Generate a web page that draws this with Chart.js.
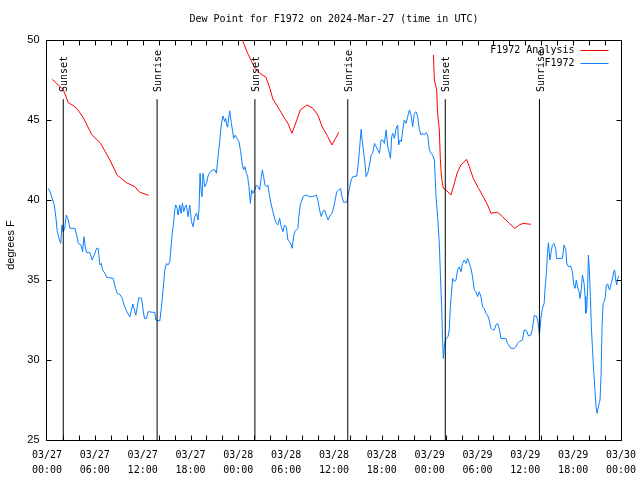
<!DOCTYPE html>
<html>
<head>
<meta charset="utf-8">
<script src="https://cdn.jsdelivr.net/npm/chart.js@4.4.1/dist/chart.umd.min.js"></script>
<style>
  body { margin: 0; background: #fff; }
</style>
</head>
<body>
<canvas id="grafico" width="640" height="480"></canvas>
<script>
// Horas desde 03/27 00:00 UTC
const obsHours = [
  0.16, 0.38, 0.71, 0.91, 1.13, 1.29, 1.50, 1.72, 1.88, 2.04, 2.22, 2.42, 2.67, 2.88, 3.51, 3.72, 3.92, 4.26, 4.47, 4.63,
  4.80, 4.97, 5.38, 5.67, 6.01, 6.22, 6.42, 6.64, 6.80, 6.97, 7.26, 7.48, 8.30, 8.60, 8.80, 9.14, 9.39, 9.77, 10.14, 10.39,
  10.77, 11.14, 11.52, 11.86, 12.06, 12.23, 12.48, 12.68, 13.31, 13.52, 13.65, 14.15, 14.36, 14.56, 14.78, 14.99, 15.19, 15.40, 15.53, 15.69,
  15.82, 16.03, 16.15, 16.32, 16.44, 16.65, 16.82, 16.99, 17.16, 17.32, 17.49, 17.69, 17.91, 18.12, 18.32, 18.53, 18.75, 18.95, 19.07, 19.20,
  19.32, 19.45, 19.57, 19.78, 20.00, 20.20, 20.41, 20.75, 21.04, 21.25, 21.45, 21.66, 21.88, 22.08, 22.29, 22.41, 22.58, 22.70, 22.92, 23.13,
  23.42, 23.63, 23.83, 24.08, 24.29, 24.51, 24.67, 24.83, 25.01, 25.17, 25.33, 25.51, 25.67, 25.83, 26.05, 26.26, 26.46, 26.67, 26.89, 27.01,
  27.17, 27.34, 27.51, 27.71, 27.92, 28.14, 28.34, 28.55, 28.76, 28.96, 29.18, 29.39, 29.59, 29.80, 30.02, 30.22, 30.43, 30.64, 30.77, 30.93,
  31.09, 31.27, 31.47, 31.59, 31.77, 31.97, 32.18, 32.52, 32.93, 33.35, 33.77, 33.97, 34.19, 34.40, 34.60, 34.81, 35.02, 35.27, 35.52, 35.78,
  36.06, 36.35, 36.60, 36.82, 37.03, 37.19, 37.60, 37.73, 37.94, 38.15, 38.36, 38.86, 39.07, 39.28, 39.41, 39.53, 39.73, 39.91, 40.03, 40.23,
  40.45, 40.66, 40.86, 41.07, 41.28, 41.49, 41.70, 41.91, 42.11, 42.32, 42.54, 42.74, 42.95, 43.08, 43.24, 43.36, 43.58, 43.79, 43.99, 44.11,
  44.29, 44.45, 44.62, 44.83, 45.04, 45.24, 45.46, 45.67, 45.87, 46.08, 46.29, 46.49, 46.71, 46.92, 47.12, 47.33, 47.55, 47.75, 47.96, 48.17,
  48.37, 48.59, 48.80, 49.00, 49.21, 49.34, 49.50, 49.62, 49.71, 49.88, 50.05, 50.30, 50.46, 50.59, 50.80, 50.88, 51.09, 51.30, 51.50, 51.72,
  51.93, 52.13, 52.34, 52.56, 52.76, 52.97, 53.18, 53.38, 53.59, 53.81, 54.01, 54.22, 54.43, 54.63, 54.85, 55.06, 55.26, 55.47, 55.69, 55.89,
  56.10, 56.31, 56.51, 56.72, 56.94, 57.56, 57.76, 58.19, 58.60, 58.81, 59.01, 59.23, 59.64, 59.86, 60.14, 60.39, 60.69, 60.90, 61.11, 61.40,
  61.61, 61.77, 61.95, 62.15, 62.36, 62.48, 62.65, 62.78, 62.90, 63.08, 63.24, 63.40, 63.61, 63.83, 63.90, 64.65, 64.86, 65.08, 65.20, 65.40,
  65.70, 65.91, 66.08, 66.24, 66.40, 66.58, 66.74, 66.87, 67.03, 67.16, 67.37, 67.49, 67.58, 67.71, 67.83, 67.91, 68.03, 68.16, 68.28, 68.41,
  68.58, 68.75, 68.87, 69.00, 69.12, 69.25, 69.37, 69.50, 69.62, 69.75, 69.91, 70.04, 70.16, 70.34, 70.46, 70.59, 70.75, 70.91, 71.09, 71.21,
  71.34, 71.46, 71.59, 71.71
];
const obsDew = [
  40.73, 40.52, 40.0, 39.69, 38.85, 38.02, 37.6, 37.29, 38.44, 38.0, 38.23, 39.06, 38.75, 38.23, 38.23, 37.81, 37.29, 37.19, 36.77, 37.71,
  37.08, 36.71, 36.71, 36.25, 36.67, 36.98, 36.98, 35.94, 36.04, 35.63, 35.42, 35.17, 35.1, 34.48, 34.17, 34.1, 33.9, 33.3, 32.9, 32.7,
  33.5, 32.8, 33.9, 33.85, 33.1, 32.6, 32.6, 33.02, 32.98, 32.98, 32.5, 32.44, 33.33, 34.38, 35.63, 36.04, 35.94, 36.15, 36.88, 37.81,
  38.33, 39.38, 39.69, 39.48, 39.06, 39.69, 39.17, 39.79, 39.27, 39.58, 39.69, 38.96, 39.69, 38.65, 38.33, 38.96, 39.17, 38.75, 39.48, 41.67,
  40.63, 40.21, 41.67, 40.83, 41.04, 41.5, 41.71, 41.88, 41.88, 41.67, 42.71, 43.65, 44.79, 45.25, 44.9, 45.1, 44.58, 44.79, 45.58, 44.79,
  43.85, 44.06, 43.85, 43.65, 43.02, 42.19, 41.88, 42.08, 41.67, 41.46, 40.83, 39.79, 40.63, 40.42, 40.63, 40.94, 40.83, 40.63, 41.46, 41.88,
  41.46, 40.94, 40.83, 40.94, 40.21, 39.69, 39.27, 38.85, 38.54, 38.44, 38.85, 38.33, 38.02, 38.44, 38.33, 37.5, 37.4, 37.19, 36.98, 37.71,
  38.02, 38.13, 38.23, 38.96, 39.69, 40.0, 40.25, 40.31, 40.21, 40.21, 40.31, 40.0, 39.38, 38.96, 39.27, 39.38, 39.06, 38.75, 39.06, 39.17,
  39.79, 40.52, 40.63, 40.73, 40.15, 39.86, 39.86, 40.21, 40.73, 41.25, 41.46, 41.5, 42.4, 43.65, 44.42, 43.75, 42.92, 42.19, 41.46, 41.67,
  42.19, 42.81, 42.92, 43.54, 43.33, 43.13, 42.92, 43.75, 43.75, 43.54, 44.38, 43.33, 42.92, 42.6, 43.96, 44.17, 43.85, 44.48, 44.69, 43.44,
  43.75, 43.65, 44.38, 45.0, 44.79, 45.21, 45.63, 45.31, 44.58, 45.42, 45.52, 45.21, 44.38, 44.06, 44.17, 44.06, 44.21, 44.06, 43.13, 42.92,
  42.81, 42.5, 40.21, 38.96, 37.29, 35.42, 33.33, 31.25, 30.1, 31.04, 31.35, 31.46, 31.88, 33.33, 34.58, 35.1, 34.9, 35.0, 35.63, 35.83,
  35.52, 36.04, 36.25, 36.04, 36.35, 36.04, 35.73, 35.21, 34.38, 34.27, 33.96, 34.27, 33.96, 33.33, 33.23, 32.92, 32.81, 32.5, 31.98, 31.88,
  31.88, 32.19, 32.29, 31.98, 31.35, 31.35, 31.04, 30.73, 30.73, 30.83, 31.04, 31.15, 31.25, 31.88, 31.83, 31.5, 31.56, 31.98, 32.77, 32.75,
  32.33, 31.56, 32.6, 33.23, 33.54, 34.48, 35.52, 36.67, 37.33, 36.25, 36.77, 37.19, 37.29, 36.88, 36.35, 36.35, 37.19, 36.88, 36.04, 35.83,
  35.88, 35.52, 34.69, 34.48, 35.0, 34.48, 34.27, 33.85, 34.48, 35.31, 34.79, 33.96, 32.92, 33.23, 34.79, 36.56, 35.63, 33.96, 32.08, 30.83,
  29.27, 28.02, 27.08, 26.67, 26.98, 27.29, 27.5, 29.06, 31.98, 33.54, 33.65, 33.96, 34.69, 34.75, 34.48, 34.38, 34.79, 35.0, 35.52, 35.63,
  35.0, 34.69, 35.1, 35.25
];

// Análise (três trechos, separados por null)
const anaHours = [
  0.66, 2.04, 2.67, 3.29, 3.79, 4.55, 5.60, 6.72, 7.89, 8.80, 9.98, 11.02, 11.65, 12.77,
  18,
  24.5, 25.17, 25.67, 26.08, 26.70, 27.46, 27.96, 28.33, 29.18, 29.80, 30.22, 30.72, 31.27, 31.77, 32.60, 33.35, 33.97, 34.52, 35.22, 35.73, 36.19, 36.60,
  42,
  48.47, 48.59, 48.88, 49.00, 49.21, 49.34, 49.50, 49.71, 50.05, 50.67, 51.09, 51.50, 51.93, 52.63, 52.97, 53.47, 54.13, 54.72, 55.26, 55.69, 56.51, 57.14, 57.98, 58.69, 59.23, 59.73, 60.69
];
const anaDew = [
  47.54, 46.9, 46.08, 45.9, 45.69, 45.15, 44.1, 43.54, 42.5, 41.56, 41.08, 40.83, 40.48, 40.29,
  null,
  50.0, 49.17, 48.65, 48.23, 47.92, 47.67, 46.98, 46.31, 45.63, 45.1, 44.79, 44.17, 44.9, 45.63, 45.94, 45.73, 45.31, 44.58, 43.96, 43.44, 43.85, 44.23,
  null,
  49.06, 47.5, 46.88, 45.42, 44.38, 42.5, 41.35, 40.73, 40.63, 40.31, 41.04, 41.77, 42.19, 42.54, 42.08, 41.35, 40.73, 40.21, 39.69, 39.17, 39.23, 38.96, 38.54, 38.23, 38.44, 38.54, 38.48
];

const eventHours = [2.04, 13.81, 26.08, 37.73, 49.96, 61.77];
const eventNames = ['Sunset', 'Sunrise', 'Sunset', 'Sunrise', 'Sunset', 'Sunrise'];
const eventTop = 46.3;

const yTicks = [25, 30, 35, 40, 45, 50];
const xLabelHours = [0, 6, 12, 18, 24, 30, 36, 42, 48, 54, 60, 66, 72];
const xLabelDates = ['03/27', '03/27', '03/27', '03/27', '03/28', '03/28', '03/28', '03/28', '03/29', '03/29', '03/29', '03/29', '03/30'];
const xLabelTimes = ['00:00', '06:00', '12:00', '18:00', '00:00', '06:00', '12:00', '18:00', '00:00', '06:00', '12:00', '18:00', '00:00'];

const titulo = 'Dew Point for F1972 on 2024-Mar-27 (time in UTC)';
const MONO = '10px "DejaVu Sans Mono"';
const SANS = '11px "Liberation Sans"';

const pares = (xs, ys) => xs.map((h, i) => ({ x: h, y: ys[i] }));

// linhas verticais de nascer/pôr do sol
const eventData = [];
eventHours.forEach(h => {
  eventData.push({ x: h, y: 25 }, { x: h, y: eventTop }, { x: h, y: null });
});

const moldura = {
  id: 'moldura',
  beforeDraw(chart) {
    const ctx = chart.ctx;
    ctx.save();
    ctx.fillStyle = '#fff';
    ctx.fillRect(0, 0, chart.width, chart.height);
    ctx.restore();
  },
  afterDraw(chart) {
    const { ctx, chartArea: a, scales: { x, y } } = chart;
    const L = Math.round(a.left) - 0.5, R = Math.round(a.right) + 0.5;
    const T = Math.round(a.top) + 0.5, B = Math.round(a.bottom) + 0.5;
    ctx.save();
    ctx.strokeStyle = '#000';
    ctx.lineWidth = 1;
    ctx.strokeRect(L, T, R - L, B - T);

    // marcas internas
    ctx.beginPath();
    for (let h = 2; h < 72; h += 2) {
      const px = Math.round(x.getPixelForValue(h)) + 0.5;
      ctx.moveTo(px, B); ctx.lineTo(px, B - 5);
      ctx.moveTo(px, T); ctx.lineTo(px, T + 5);
    }
    yTicks.forEach(v => {
      const py = Math.round(y.getPixelForValue(v)) + 0.5;
      ctx.moveTo(L, py); ctx.lineTo(L + 5, py);
      ctx.moveTo(R, py); ctx.lineTo(R - 5, py);
    });
    ctx.stroke();

    ctx.fillStyle = '#000';
    // rótulos do eixo y
    ctx.font = SANS;
    ctx.textAlign = 'right';
    ctx.textBaseline = 'middle';
    yTicks.forEach(v => ctx.fillText(String(v), L - 7, y.getPixelForValue(v)));

    // rótulos do eixo x
    ctx.font = MONO;
    ctx.textAlign = 'center';
    xLabelHours.forEach((h, i) => {
      const px = x.getPixelForValue(h);
      ctx.fillText(xLabelDates[i], px, B + 15);
      ctx.fillText(xLabelTimes[i], px, B + 30);
    });

    // título
    ctx.fillText(titulo, (a.left + a.right) / 2, 19);

    // título do eixo y
    ctx.save();
    ctx.font = SANS;
    ctx.translate(11, 245);
    ctx.rotate(-Math.PI / 2);
    ctx.fillText('degrees F', 0, 0);
    ctx.restore();

    // rótulos Sunset / Sunrise
    ctx.font = MONO;
    eventHours.forEach((h, i) => {
      ctx.save();
      ctx.translate(x.getPixelForValue(h) + 1.5, 92);
      ctx.rotate(-Math.PI / 2);
      ctx.textAlign = 'left';
      ctx.fillText(eventNames[i], 0, 0);
      ctx.restore();
    });

    // legenda
    const itens = chart.data.datasets.filter(d => d.label);
    itens.forEach((d, i) => {
      const ly = a.top + 10 + i * 13;
      ctx.textAlign = 'right';
      ctx.fillText(d.label, R - 47, ly);
      ctx.strokeStyle = d.borderColor;
      ctx.beginPath();
      ctx.moveTo(R - 41, Math.round(ly) + 0.5);
      ctx.lineTo(R - 13, Math.round(ly) + 0.5);
      ctx.stroke();
    });
    ctx.restore();
  }
};

new Chart(document.getElementById('grafico'), {
  type: 'line',
  data: {
    datasets: [
      {
        data: eventData,
        borderColor: '#000',
        borderWidth: 1,
        pointRadius: 0,
        spanGaps: false
      },
      {
        label: 'F1972 Analysis',
        data: pares(anaHours, anaDew),
        borderColor: '#ff0000',
        borderWidth: 1,
        pointRadius: 0,
        spanGaps: false
      },
      {
        label: 'F1972',
        data: pares(obsHours, obsDew),
        borderColor: '#0a80ff',
        borderWidth: 1,
        pointRadius: 0
      }
    ]
  },
  options: {
    responsive: false,
    animation: false,
    layout: { padding: { left: 47, right: 19, top: 40, bottom: 40 } },
    scales: {
      x: { type: 'linear', min: 0, max: 72, display: false },
      y: { min: 25, max: 50, display: false }
    },
    plugins: {
      legend: { display: false },
      tooltip: { enabled: false }
    }
  },
  plugins: [moldura]
});
</script>
</body>
</html>
